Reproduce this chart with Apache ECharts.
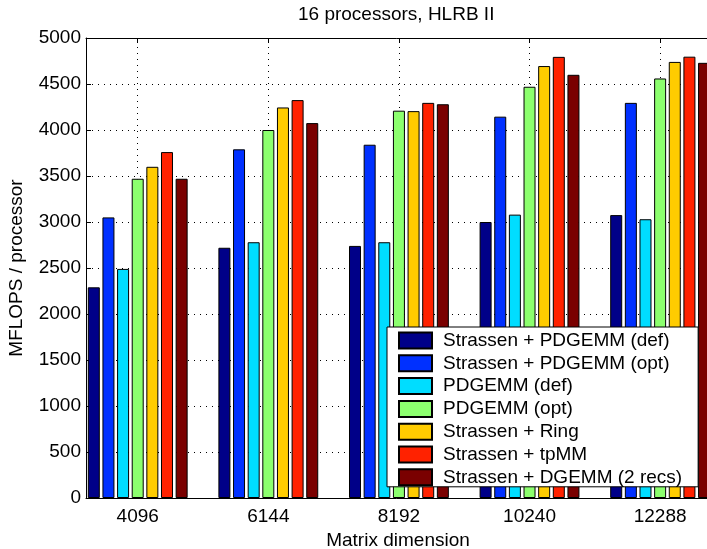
<!DOCTYPE html>
<html>
<head>
<meta charset="utf-8">
<script src="https://cdn.jsdelivr.net/npm/echarts@6/dist/echarts.min.js"></script>
<style>
html,body{margin:0;padding:0;background:#fff;}
#chart{width:707px;height:549px;}
</style>
</head>
<body>
<div id="chart"></div>
<script>
// ---- data ----
const categories = [4096, 6144, 8192, 10240, 12288];
const seriesNames = [
  'Strassen + PDGEMM (def)',
  'Strassen + PDGEMM (opt)',
  'PDGEMM (def)',
  'PDGEMM (opt)',
  'Strassen + Ring',
  'Strassen + tpMM',
  'Strassen + DGEMM (2 recs)'
];
const strassenPdgemmDef = [2290, 2720, 2740, 3000, 3075];
const strassenPdgemmOpt = [3050, 3790, 3840, 4145, 4295];
const pdgemmDef         = [2490, 2780, 2780, 3080, 3030];
const pdgemmOpt         = [3470, 4000, 4210, 4470, 4560];
const strassenRing      = [3600, 4245, 4205, 4695, 4740];
const strassenTpmm      = [3760, 4325, 4295, 4795, 4797];
const strassenDgemm2    = [3470, 4075, 4280, 4600, 4730];

const allValues = [strassenPdgemmDef, strassenPdgemmOpt, pdgemmDef, pdgemmOpt, strassenRing, strassenTpmm, strassenDgemm2];
const colors = ['#000088', '#0030FF', '#00DDFF', '#8CFF6E', '#FFCC00', '#FF2200', '#7A0000'];

const FONT = 'Liberation Sans, Arial, Helvetica, sans-serif';
const FS = 19;

const chart = echarts.init(document.getElementById('chart'), null, {renderer: 'canvas'});

const barSeries = seriesNames.map((name, k) => ({
  name: name,
  type: 'bar',
  xAxisIndex: 0,
  yAxisIndex: 0,
  barWidth: 12,
  barGap: '22%',
  z: 3,
  itemStyle: {color: colors[k], borderColor: '#000', borderWidth: 1},
  emphasis: {disabled: true},
  data: categories.map((c, i) => [c, allValues[k][i]])
}));

const gridHelper = {
  name: '_grid',
  type: 'line',
  data: [],
  z: 1,
  silent: true,
  markLine: {
    silent: true,
    z: 1,
    symbol: 'none',
    label: {show: false},
    lineStyle: {color: '#000', type: [1, 5], width: 1},
    emphasis: {disabled: true},
    data: categories.map(c => ({xAxis: c}))
  }
};

const option = {
  animation: false,
  backgroundColor: '#fff',
  textStyle: {fontFamily: FONT},
  title: {
    text: '16 processors, HLRB II',
    left: 298,
    top: 5,
    padding: 0,
    textStyle: {fontFamily: FONT, fontSize: FS, fontWeight: 'normal', color: '#000'}
  },
  grid: {left: 86, right: -3, top: 38, bottom: 51, containLabel: false, outerBoundsMode: 'none'},
  xAxis: [{
    type: 'value',
    min: 3285,
    max: 13070,
    position: 'bottom',
    name: 'Matrix dimension',
    nameLocation: 'middle',
    nameGap: 32,
    nameTextStyle: {fontFamily: FONT, fontSize: FS, color: '#000'},
    axisLine: {show: true, onZero: false, lineStyle: {color: '#000', width: 1}},
    axisTick: {show: true, inside: true, length: 5, customValues: categories, lineStyle: {color: '#000'}},
    axisLabel: {show: true, customValues: categories, margin: 9, fontFamily: FONT, fontSize: FS, color: '#000', formatter: v => String(v)},
    splitLine: {show: false}
  }, {
    type: 'value',
    min: 3285,
    max: 13070,
    position: 'top',
    axisLine: {show: true, onZero: false, lineStyle: {color: '#000', width: 1}},
    axisTick: {show: true, inside: true, length: 5, customValues: categories, lineStyle: {color: '#000'}},
    axisLabel: {show: false},
    splitLine: {show: false}
  }],
  yAxis: [{
    type: 'value',
    min: 0,
    max: 5000,
    interval: 500,
    name: 'MFLOPS / processor',
    nameLocation: 'middle',
    nameGap: 60,
    nameRotate: 90,
    nameTextStyle: {fontFamily: FONT, fontSize: FS, color: '#000'},
    axisLine: {show: true, lineStyle: {color: '#000', width: 1}},
    axisTick: {show: true, inside: true, length: 5, lineStyle: {color: '#000'}},
    axisLabel: {margin: 5, fontFamily: FONT, fontSize: FS, color: '#000', formatter: v => String(v)},
    splitLine: {show: true, lineStyle: {color: '#000', type: [1, 5], width: 1}}
  }],
  legend: {
    data: seriesNames,
    orient: 'vertical',
    left: 387,
    top: 327,
    padding: [4, 16, 0, 11],
    itemWidth: 33,
    itemHeight: 16,
    itemGap: 3.8,
    icon: 'rect',
    backgroundColor: '#fff',
    borderColor: '#000',
    borderWidth: 1,
    borderRadius: 0,
    z: 10,
    selectedMode: false,
    textStyle: {fontFamily: FONT, fontSize: FS, color: '#000', lineHeight: 17, padding: [0, 0, 0, 6]}
  },
  series: barSeries.concat([gridHelper])
};

chart.setOption(option);
</script>
</body>
</html>
